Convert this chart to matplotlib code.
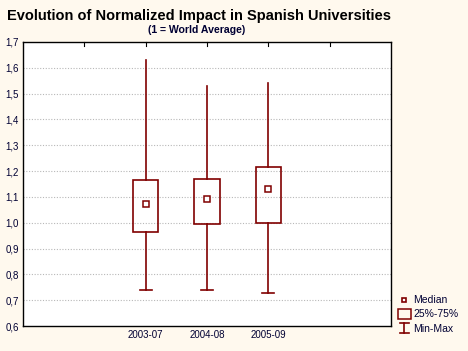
import matplotlib
matplotlib.use("Agg")
import matplotlib.pyplot as plt
from matplotlib.lines import Line2D
from matplotlib.patches import Rectangle
from matplotlib.legend_handler import HandlerBase

categories = ["2003-07", "2004-08", "2005-09"]
medians = [1.072, 1.091, 1.130]
q1 = [0.964, 0.994, 0.998]
q3 = [1.165, 1.169, 1.215]
mins = [0.738, 0.738, 0.727]
maxs = [1.630, 1.530, 1.542]
yticks = [0.6, 0.7, 0.8, 0.9, 1.0, 1.1, 1.2, 1.3, 1.4, 1.5, 1.6, 1.7]

plt.rcParams['font.family'] = ['Liberation Sans', 'DejaVu Sans']
red = '#800000'
bg = '#FFF9EE'
txt = '#000033'

fig = plt.figure(figsize=(4.68, 3.51), dpi=100, facecolor=bg)
ax = fig.add_axes([23/468, 1 - 326/351, 368/468, 284/351])
ax.set_facecolor('white')

positions = [2, 3, 4]
w = 0.41
for p, md, lo, hi, mn, mx in zip(positions, medians, q1, q3, mins, maxs):
    ax.add_patch(Rectangle((p - w/2, lo), w, hi - lo, fill=False, edgecolor=red, lw=1.2, zorder=3))
    ax.plot([p, p], [hi, mx], color=red, lw=1.2, zorder=3)
    ax.plot([p, p], [mn, lo], color=red, lw=1.2, zorder=3)
    ax.plot([p - 0.1, p + 0.1], [mn, mn], color=red, lw=1.2, zorder=3)
    ax.plot([p], [md], marker='s', ms=3.8, mfc='white', mec=red, mew=1.1, zorder=4, linestyle='none')

ax.set_xlim(0, 6)
ax.set_ylim(0.6, 1.7)
ax.set_yticks(yticks)
ax.set_yticklabels([f"{v:.1f}".replace('.', ',') for v in yticks], fontsize=7, color=txt)
ax.set_xticks(positions)
ax.set_xticklabels(categories, fontsize=7, color=txt)
ax.tick_params(axis='both', length=0, pad=3)
for v in yticks[1:-1]:
    ax.axhline(v, color='#b8b8b8', lw=0.8, ls=(0, (1, 1.5)), zorder=1)
for xp in [1, 2, 3, 4, 5]:
    ax.plot([xp, xp], [1.7, 1.7 - 0.015], color='black', lw=0.8, clip_on=False)
for s in ax.spines.values():
    s.set_color('black')
    s.set_linewidth(1.0)

fig.text(0.425, 1 - 16/351, "Evolution of Normalized Impact in Spanish Universities", ha='center', va='center',
         fontsize=10.5, fontweight='bold', color='black')
fig.text(0.42, 1 - 30/351, "(1 = World Average)", ha='center', va='center',
         fontsize=7.6, fontweight='bold', color=txt)

class MinMaxHandler(HandlerBase):
    def create_artists(self, legend, orig_handle, x0, y0, width, height, fontsize, trans):
        cx = x0 + width / 2
        l1 = Line2D([cx, cx], [y0 - 1, y0 + height + 1], color=red, lw=1.2, transform=trans)
        l2 = Line2D([cx - 3, cx + 3], [y0 - 1, y0 - 1], color=red, lw=1.2, transform=trans)
        l3 = Line2D([cx - 3, cx + 3], [y0 + height + 1, y0 + height + 1], color=red, lw=1.2, transform=trans)
        return [l1, l2, l3]

class BoxHandler(HandlerBase):
    def create_artists(self, legend, orig_handle, x0, y0, width, height, fontsize, trans):
        cx = x0 + width / 2
        r = Rectangle((cx - 4.5, y0 - 1), 9, height + 2, fill=False, edgecolor=red, lw=1.1, transform=trans)
        return [r]

med_h = Line2D([], [], marker='s', ms=3.5, mfc='white', mec=red, mew=1.2, linestyle='none')
box_h = Rectangle((0, 0), 1, 1)
mm_h = Line2D([], [])
leg = fig.legend([med_h, box_h, mm_h], ["Median", "25%-75%", "Min-Max"],
                 handler_map={box_h: BoxHandler(), mm_h: MinMaxHandler()},
                 loc='upper left', bbox_to_anchor=(392/468, 1 - 288/351), frameon=False,
                 fontsize=7.5, handlelength=1.0, handletextpad=0.35, labelspacing=0.4, borderpad=0.2)
for t in leg.get_texts():
    t.set_color(txt)

fig.savefig("out.png", dpi=100, facecolor=bg)
